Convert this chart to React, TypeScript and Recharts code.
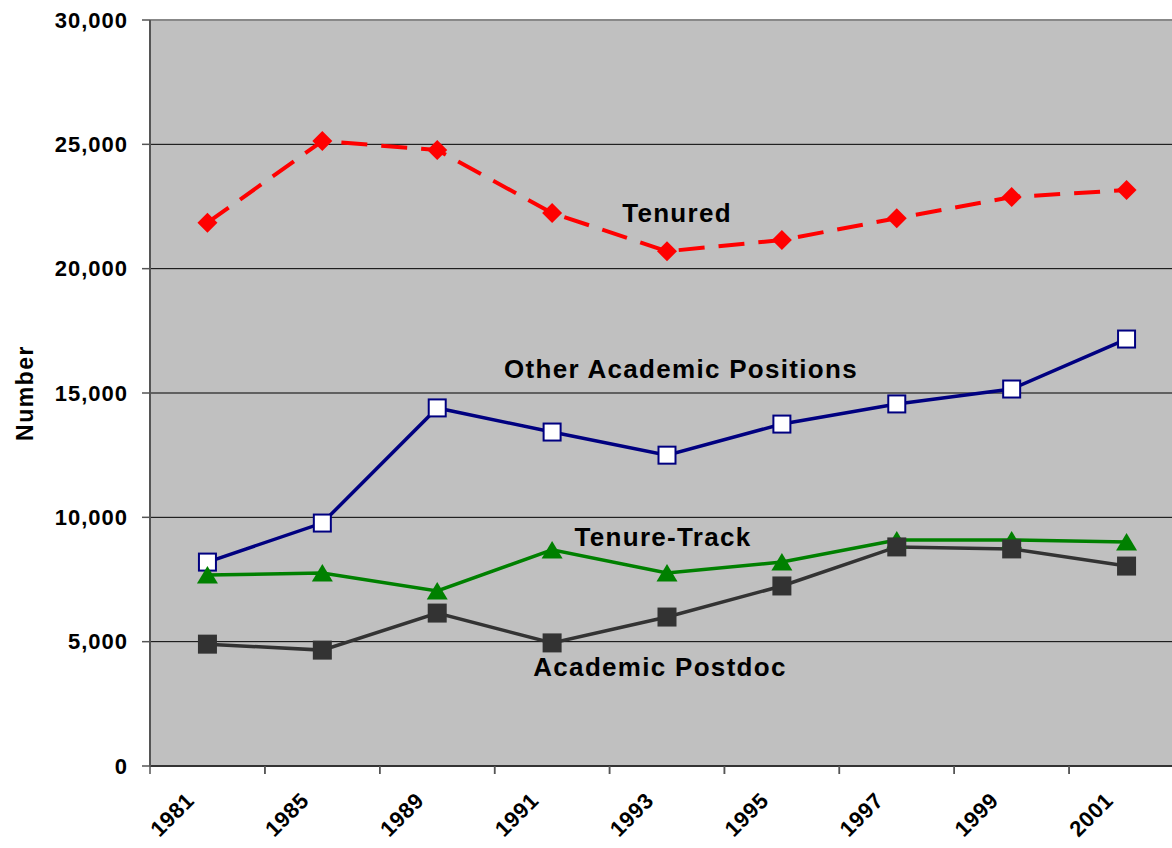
import React from 'react';
import { LineChart, Line, XAxis, YAxis, CartesianGrid, ReferenceLine, ReferenceDot } from 'recharts';

const years = ['1981', '1985', '1989', '1991', '1993', '1995', '1997', '1999', '2001'];
const tenured = [21850, 25130, 24770, 22240, 20700, 21150, 22030, 22880, 23160];
const otherAcademic = [8200, 9770, 14400, 13430, 12500, 13750, 14560, 15160, 17170];
const tenureTrack = [7680, 7760, 7040, 8690, 7760, 8200, 9090, 9090, 9010];
const postdoc = [4900, 4660, 6150, 4950, 5990, 7240, 8810, 8730, 8040];
const yTicks = [0, 5000, 10000, 15000, 20000, 25000, 30000];

const labelTexts = ['Tenured', 'Other Academic Positions', 'Tenure-Track', 'Academic Postdoc'];
const labelYears = ['1993', '1993', '1993', '1993'];
const labelValues = [22240, 15960, 9210, 3980];
const labelDx = [10, 14, -4, -7];

const data = years.map((y, i) => ({
  year: y,
  tenured: tenured[i],
  other: otherAcademic[i],
  track: tenureTrack[i],
  postdoc: postdoc[i],
}));

const FONT = '"Liberation Sans", Arial, sans-serif';

const Diamond = (p: any) => {
  const { cx, cy } = p;
  if (cx == null || cy == null) return <g key={p.key} />;
  const r = 10;
  return (
    <polygon key={p.key} points={`${cx},${cy - r} ${cx + r},${cy} ${cx},${cy + r} ${cx - r},${cy}`} fill="#FF0000" />
  );
};

const OpenSquare = (p: any) => {
  const { cx, cy } = p;
  if (cx == null || cy == null) return <g key={p.key} />;
  const s = 17;
  return <rect key={p.key} x={cx - s / 2} y={cy - s / 2} width={s} height={s} fill="#FFFFFF" stroke="#000080" strokeWidth={2} />;
};

const Triangle = (p: any) => {
  const { cx, cy } = p;
  if (cx == null || cy == null) return <g key={p.key} />;
  return (
    <polygon key={p.key} points={`${cx},${cy - 9} ${cx + 10.5},${cy + 8.5} ${cx - 10.5},${cy + 8.5}`} fill="#008000" />
  );
};

const FilledSquare = (p: any) => {
  const { cx, cy } = p;
  if (cx == null || cy == null) return <g key={p.key} />;
  const s = 19;
  return <rect key={p.key} x={cx - s / 2} y={cy - s / 2} width={s} height={s} fill="#333333" />;
};

const XTick = (p: any) => {
  const { x, y, payload } = p;
  const half = payload && payload.offset ? payload.offset : 0;
  const axisY = y - 8;
  return (
    <g>
      <line x1={x - half} y1={axisY} x2={x - half} y2={axisY + 8} stroke="#555" strokeWidth={1.5} />
      <line x1={x + half} y1={axisY} x2={x + half} y2={axisY + 8} stroke="#555" strokeWidth={1.5} />
      <g transform={`translate(${x - 12},${y + 28}) rotate(-45)`}>
        <text x={0} y={0} textAnchor="end" fill="#000" fontFamily={FONT} fontWeight="bold" fontSize={22} letterSpacing={0.5}>
          {payload.value}
        </text>
      </g>
    </g>
  );
};

const YTick = (p: any) => {
  const { x, y, payload } = p;
  return (
    <text x={x} y={y} textAnchor="end" dominantBaseline="central" fill="#000" fontFamily={FONT} fontWeight="bold" fontSize={22} letterSpacing={1}>
      {Number(payload.value).toLocaleString('en-US')}
    </text>
  );
};

export default function App() {
  return (
    <div style={{ position: 'fixed', left: 0, top: 0, width: 1172, height: 848, overflow: 'hidden', background: '#fff' }}>
      <LineChart width={1200} height={848} data={data} margin={{ top: 20, right: 16, bottom: 0, left: 0 }}>
        <CartesianGrid vertical={false} stroke="#000" fill="#C0C0C0" fillOpacity={1} />
        <XAxis
          dataKey="year"
          scale="band"
          height={82}
          interval={0}
          axisLine={{ stroke: '#333', strokeWidth: 2 }}
          tickLine={false}
          tickSize={6}
          tickMargin={2}
          tick={<XTick />}
        />
        <YAxis
          width={150}
          domain={[0, 30000]}
          ticks={yTicks}
          interval={0}
          axisLine={{ stroke: '#555', strokeWidth: 2 }}
          tickLine={{ stroke: '#555', strokeWidth: 1.5 }}
          tickSize={8}
          tickMargin={14}
          tick={<YTick />}
          label={{
            content: (lp: any) => {
              const vb = lp.viewBox || { x: 0, y: 20, width: 150, height: 746 };
              const cx = vb.x + 25;
              const cy = vb.y + vb.height / 2;
              return (
                <text x={cx} y={cy} transform={`rotate(-90, ${cx}, ${cy})`} textAnchor="middle" dominantBaseline="central" fontFamily={FONT} fontWeight="bold" fontSize={23} letterSpacing={1.5} fill="#000">
                  Number
                </text>
              );
            },
          }}
        />
        <ReferenceLine y={30000} stroke="#888" strokeWidth={2} />
        <Line
          dataKey="tenured"
          stroke="#FF0000"
          strokeWidth={4}
          strokeDasharray="26 14"
          dot={(p: any) => <Diamond {...p} />}
          isAnimationActive={false}
        />
        <Line
          dataKey="other"
          stroke="#000080"
          strokeWidth={3.5}
          dot={(p: any) => <OpenSquare {...p} />}
          isAnimationActive={false}
        />
        <Line
          dataKey="track"
          stroke="#008000"
          strokeWidth={3.5}
          dot={(p: any) => <Triangle {...p} />}
          isAnimationActive={false}
        />
        <Line
          dataKey="postdoc"
          stroke="#333333"
          strokeWidth={3.5}
          dot={(p: any) => <FilledSquare {...p} />}
          isAnimationActive={false}
        />
        {labelTexts.map((t, i) => (
          <ReferenceDot
            key={t}
            x={labelYears[i]}
            y={labelValues[i]}
            r={0}
            fill="none"
            stroke="none"
            label={{
              content: (lp: any) => {
                const vb = lp.viewBox;
                return (
                  <text x={vb.x + labelDx[i]} y={vb.y} textAnchor="middle" dominantBaseline="central" fontFamily={FONT} fontWeight="bold" fontSize={26} letterSpacing={1.3} fill="#000">
                    {t}
                  </text>
                );
              },
            }}
          />
        ))}
      </LineChart>
    </div>
  );
}
